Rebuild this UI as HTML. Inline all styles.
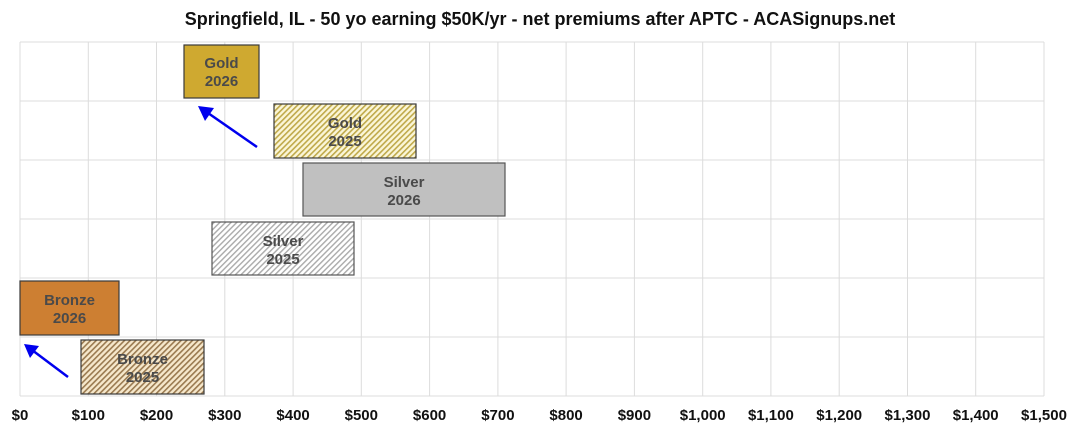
<!DOCTYPE html>
<html><head><meta charset="utf-8"><style>body{margin:0;background:#fff}svg{display:block}</style></head><body>
<svg width="1080" height="432" xmlns="http://www.w3.org/2000/svg" font-family="Liberation Sans, Arial, sans-serif">
<defs>
<pattern id="hg" width="4" height="4" patternUnits="userSpaceOnUse" patternTransform="rotate(45)"><rect width="4" height="4" fill="#fbf6d8"/><rect width="1.6" height="4" fill="#bfa94a"/></pattern>
<pattern id="hs" width="4" height="4" patternUnits="userSpaceOnUse" patternTransform="rotate(45)"><rect width="4" height="4" fill="#fff"/><rect width="1.4" height="4" fill="#aaa"/></pattern>
<pattern id="hb" width="4" height="4" patternUnits="userSpaceOnUse" patternTransform="rotate(45)"><rect width="4" height="4" fill="#f6e8cc"/><rect width="1.6" height="4" fill="#9a7a50"/></pattern>
</defs>
<rect width="1080" height="432" fill="#fff"/>
<text x="540" y="25" text-anchor="middle" font-size="18" font-weight="bold" fill="#111">Springfield, IL - 50 yo earning $50K/yr - net premiums after APTC - ACASignups.net</text>
<g stroke="#dcdcdc" stroke-width="1">
<line x1="20" y1="42" x2="1044" y2="42"/><line x1="20" y1="101" x2="1044" y2="101"/><line x1="20" y1="160" x2="1044" y2="160"/><line x1="20" y1="219" x2="1044" y2="219"/><line x1="20" y1="278" x2="1044" y2="278"/><line x1="20" y1="337" x2="1044" y2="337"/><line x1="20" y1="396" x2="1044" y2="396"/>
<line x1="20" y1="42" x2="20" y2="396"/><line x1="88.3" y1="42" x2="88.3" y2="396"/><line x1="156.5" y1="42" x2="156.5" y2="396"/><line x1="224.8" y1="42" x2="224.8" y2="396"/><line x1="293.1" y1="42" x2="293.1" y2="396"/><line x1="361.3" y1="42" x2="361.3" y2="396"/><line x1="429.6" y1="42" x2="429.6" y2="396"/><line x1="497.9" y1="42" x2="497.9" y2="396"/><line x1="566.1" y1="42" x2="566.1" y2="396"/><line x1="634.4" y1="42" x2="634.4" y2="396"/><line x1="702.7" y1="42" x2="702.7" y2="396"/><line x1="770.9" y1="42" x2="770.9" y2="396"/><line x1="839.2" y1="42" x2="839.2" y2="396"/><line x1="907.5" y1="42" x2="907.5" y2="396"/><line x1="975.7" y1="42" x2="975.7" y2="396"/><line x1="1044" y1="42" x2="1044" y2="396"/>
</g>
<g stroke="#3a3a3a" stroke-width="1.2">
<rect x="184" y="45" width="75" height="53" fill="#cfa930"/>
<rect x="274" y="104" width="142" height="54" fill="url(#hg)"/>
<rect x="303" y="163" width="202" height="53" fill="#c0c0c0" stroke="#555"/>
<rect x="212" y="222" width="142" height="53" fill="url(#hs)" stroke="#555"/>
<rect x="20" y="281" width="99" height="54" fill="#cd7f32"/>
<rect x="81" y="340" width="123" height="54" fill="url(#hb)"/>
</g>
<g font-size="15" font-weight="bold" fill="#4a4a4a" text-anchor="middle">
<text x="221.5" y="68">Gold</text><text x="221.5" y="86">2026</text>
<text x="345" y="128">Gold</text><text x="345" y="146">2025</text>
<text x="404" y="187">Silver</text><text x="404" y="205">2026</text>
<text x="283" y="246">Silver</text><text x="283" y="264">2025</text>
<text x="69.5" y="305">Bronze</text><text x="69.5" y="323">2026</text>
<text x="142.5" y="364">Bronze</text><text x="142.5" y="382">2025</text>
</g>
<g stroke="#0000ee" stroke-width="2.5" fill="#0000ee">
<line x1="257" y1="147" x2="208" y2="113"/><polygon points="198,106 214,108 205,121" stroke="none"/>
<line x1="68" y1="377" x2="32" y2="350"/><polygon points="24,344 39,346 30,358" stroke="none"/>
</g>
<g font-size="15" font-weight="bold" fill="#111" text-anchor="middle">
<text x="20" y="420">$0</text><text x="88.3" y="420">$100</text><text x="156.5" y="420">$200</text><text x="224.8" y="420">$300</text><text x="293.1" y="420">$400</text><text x="361.3" y="420">$500</text><text x="429.6" y="420">$600</text><text x="497.9" y="420">$700</text><text x="566.1" y="420">$800</text><text x="634.4" y="420">$900</text><text x="702.7" y="420">$1,000</text><text x="770.9" y="420">$1,100</text><text x="839.2" y="420">$1,200</text><text x="907.5" y="420">$1,300</text><text x="975.7" y="420">$1,400</text><text x="1044" y="420">$1,500</text>
</g>
</svg>
</body></html>
